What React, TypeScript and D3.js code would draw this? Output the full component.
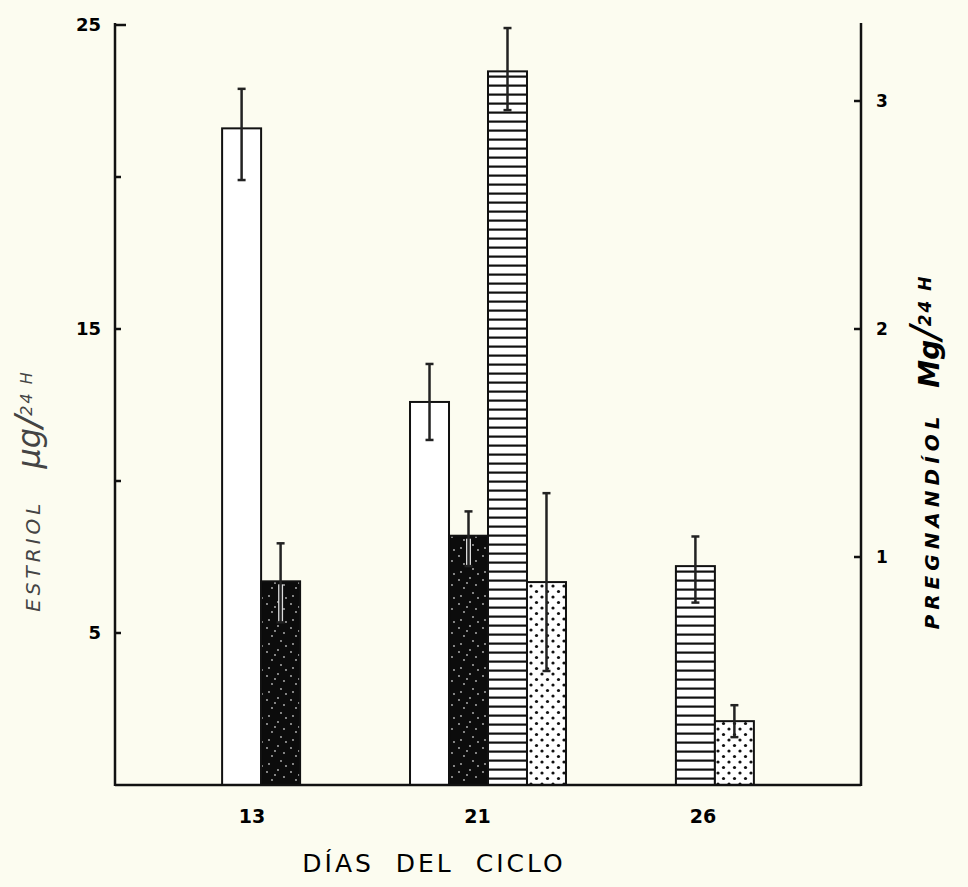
import { useEffect, useRef } from 'react'
import * as d3 from 'd3'

// Days of the cycle
const days = ['13', '21', '26']
const seriesKeys = ['estriolA', 'estriolB', 'pregnA', 'pregnB']

// Estriol (µg/24 H) - left axis
const estriolA = [21.6, 12.6, null]
const estriolAUp = [1.3, 1.25, null]
const estriolADown = [1.7, 1.25, null]
const estriolB = [6.7, 8.2, null]
const estriolBUp = [1.25, 0.8, null]
const estriolBDown = [1.35, 1.0, null]

// Pregnandiol (mg/24 H) - right axis
const pregnA = [null, 3.13, 0.96]
const pregnAUp = [null, 0.19, 0.13]
const pregnADown = [null, 0.17, 0.16]
const pregnB = [null, 0.89, 0.28]
const pregnBUp = [null, 0.39, 0.07]
const pregnBDown = [null, 0.39, 0.07]

const leftTicks = [5, 10, 15, 20, 25]
const leftLabels = [5, 15, 25]
const rightTicks = [1, 2, 3]

const W = 968
const H = 887
const baseY = 785
const topY = 25
const leftX = 115
const rightX = 861

const App = () => {
  const svgRef = useRef(null)

  useEffect(() => {
    const svg = d3.select(svgRef.current)
    svg.selectAll('*').remove()

    const yL = d3.scaleLinear().domain([0, 25]).range([baseY, topY])
    const yR = d3.scaleLinear().domain([0, 25 / 7.5]).range([baseY, topY])

    const x = d3.scaleBand().domain(days).range([leftX, rightX])
      .paddingInner(0.17).paddingOuter(0.57)
    const xs = d3.scaleBand().domain(seriesKeys).range([0, x.bandwidth()])
    const xLabel = d3.scalePoint().domain(days).range([252, 703])

    const defs = svg.append('defs')

    // horizontal stripes
    const stripes = defs.append('pattern').attr('id', 'stripes')
      .attr('patternUnits', 'userSpaceOnUse').attr('width', 40).attr('height', 9)
    stripes.append('rect').attr('width', 40).attr('height', 9).attr('fill', '#fff')
    stripes.append('rect').attr('y', 3.5).attr('width', 40).attr('height', 2.2).attr('fill', '#111')

    // dots
    const dots = defs.append('pattern').attr('id', 'dots')
      .attr('patternUnits', 'userSpaceOnUse').attr('width', 11).attr('height', 11)
    dots.append('rect').attr('width', 11).attr('height', 11).attr('fill', '#fff')
    dots.append('circle').attr('cx', 3).attr('cy', 3).attr('r', 1.6).attr('fill', '#111')
    dots.append('circle').attr('cx', 8.5).attr('cy', 8.5).attr('r', 1.6).attr('fill', '#111')

    // dark speckled fill
    const speck = defs.append('pattern').attr('id', 'speck')
      .attr('patternUnits', 'userSpaceOnUse').attr('width', 24).attr('height', 24)
    speck.append('rect').attr('width', 24).attr('height', 24).attr('fill', '#0c0c0c')
    const specks = [[3, 4], [14, 2], [20, 9], [8, 12], [17, 17], [5, 20], [11, 7], [22, 22]]
    speck.selectAll('circle').data(specks).join('circle')
      .attr('cx', d => d[0]).attr('cy', d => d[1]).attr('r', 0.9).attr('fill', '#bbb')

    const series = [
      { key: 'estriolA', values: estriolA, up: estriolAUp, down: estriolADown, y: yL, fill: '#fff' },
      { key: 'estriolB', values: estriolB, up: estriolBUp, down: estriolBDown, y: yL, fill: 'url(#speck)' },
      { key: 'pregnA', values: pregnA, up: pregnAUp, down: pregnADown, y: yR, fill: 'url(#stripes)' },
      { key: 'pregnB', values: pregnB, up: pregnBUp, down: pregnBDown, y: yR, fill: 'url(#dots)' },
    ]

    const bars = []
    series.forEach(s => {
      days.forEach((d, i) => {
        if (s.values[i] == null) return
        bars.push({ day: d, key: s.key, v: s.values[i], up: s.up[i], down: s.down[i], y: s.y, fill: s.fill })
      })
    })

    const g = svg.append('g')

    g.selectAll('rect.bar').data(bars).join('rect')
      .attr('class', 'bar')
      .attr('x', d => x(d.day) + xs(d.key))
      .attr('y', d => d.y(d.v))
      .attr('width', xs.bandwidth())
      .attr('height', d => baseY - d.y(d.v))
      .attr('fill', d => d.fill)
      .attr('stroke', '#111')
      .attr('stroke-width', 2)

    // error bars
    const cx = d => x(d.day) + xs(d.key) + xs.bandwidth() / 2
    // light halo so the lower whisker shows on the dark bars
    g.selectAll('line.halo').data(bars.filter(d => d.key === 'estriolB')).join('line')
      .attr('class', 'halo')
      .attr('stroke', '#ddd').attr('stroke-width', 5)
      .attr('x1', cx).attr('x2', cx)
      .attr('y1', d => d.y(d.v) + 3).attr('y2', d => d.y(d.v - d.down))
    const eb = g.selectAll('g.err').data(bars).join('g').attr('class', 'err')
      .attr('stroke', '#222').attr('stroke-width', 2.5)
    eb.append('line')
      .attr('x1', cx).attr('x2', cx)
      .attr('y1', d => d.y(d.v + d.up)).attr('y2', d => d.y(d.v - d.down))
    eb.append('line')
      .attr('x1', d => cx(d) - 4).attr('x2', d => cx(d) + 4)
      .attr('y1', d => d.y(d.v + d.up)).attr('y2', d => d.y(d.v + d.up))
    eb.append('line')
      .attr('x1', d => cx(d) - 4).attr('x2', d => cx(d) + 4)
      .attr('y1', d => d.y(d.v - d.down)).attr('y2', d => d.y(d.v - d.down))

    // axes
    const ax = svg.append('g').attr('stroke', '#111').attr('stroke-width', 2.5)
    ax.append('line').attr('x1', leftX).attr('x2', leftX).attr('y1', topY - 2).attr('y2', baseY + 1)
    ax.append('line').attr('x1', rightX).attr('x2', rightX).attr('y1', topY - 2).attr('y2', baseY + 1)
    ax.append('line').attr('x1', leftX).attr('x2', rightX).attr('y1', baseY).attr('y2', baseY)
    ax.selectAll('line.lt').data(leftTicks).join('line').attr('class', 'lt')
      .attr('x1', leftX).attr('x2', d => leftX + (d === 25 ? 11 : 6))
      .attr('y1', d => yL(d)).attr('y2', d => yL(d))
    ax.selectAll('line.rt').data(rightTicks).join('line').attr('class', 'rt')
      .attr('x1', rightX - 7).attr('x2', rightX)
      .attr('y1', d => yR(d)).attr('y2', d => yR(d))

    svg.selectAll('text.ll').data(leftLabels).join('text').attr('class', 'll')
      .attr('x', 101).attr('y', d => yL(d)).attr('dy', '0.35em')
      .attr('text-anchor', 'end')
      .style('font-family', 'DejaVu Sans').style('font-weight', 'bold').style('font-size', '18px')
      .text(d => d)

    svg.selectAll('text.rl').data(rightTicks).join('text').attr('class', 'rl')
      .attr('x', 876).attr('y', d => yR(d)).attr('dy', '0.35em')
      .style('font-family', 'DejaVu Sans').style('font-weight', 'bold').style('font-size', '17px')
      .text(d => d)

    svg.selectAll('text.xl').data(days).join('text').attr('class', 'xl')
      .attr('x', d => xLabel(d)).attr('y', 816).attr('dy', '0.35em')
      .attr('text-anchor', 'middle')
      .style('font-family', 'DejaVu Sans').style('font-weight', 'bold').style('font-size', '19px')
      .text(d => d)

    svg.append('text')
      .attr('x', 434).attr('y', 863).attr('dy', '0.35em')
      .attr('text-anchor', 'middle')
      .style('font-family', 'DejaVu Sans').style('font-size', '25px')
      .style('letter-spacing', '3px').attr('xml:space', 'preserve')
      .text('DÍAS  DEL  CICLO')

    // left axis title
    const lt = svg.append('text')
      .attr('transform', 'translate(40,491) rotate(-90)')
      .attr('text-anchor', 'middle')
      .attr('fill', '#444')
      .style('font-family', 'DejaVu Sans').style('font-style', 'italic')
      .attr('xml:space', 'preserve')
    lt.append('tspan').style('font-size', '20px').style('letter-spacing', '4px').text('ESTRIOL   ')
    lt.append('tspan').style('font-size', '32px').text('µg')
    lt.append('tspan').style('font-size', '36px').text('/')
    lt.append('tspan').style('font-size', '16px').attr('dy', -8).style('letter-spacing', '2px').text('24 H')

    // right axis title
    const rt = svg.append('text')
      .attr('transform', 'translate(939,452) rotate(-90)')
      .attr('text-anchor', 'middle')
      .style('font-family', 'DejaVu Sans').style('font-weight', 'bold').style('font-style', 'italic')
      .attr('xml:space', 'preserve')
    rt.append('tspan').style('font-size', '20px').style('letter-spacing', '5px').text('PREGNANDÍOL  ')
    rt.append('tspan').style('font-size', '28px').text('Mg')
    rt.append('tspan').style('font-size', '40px').style('font-weight', 'normal').text('/')
    rt.append('tspan').style('font-size', '17px').attr('dy', -8).style('letter-spacing', '2px').text('24 H')
  }, [])

  return (
    <svg ref={svgRef} width={W} height={H}
      style={{ position: 'absolute', left: 0, top: 0, background: '#fcfcf0' }} />
  )
}

export default App
